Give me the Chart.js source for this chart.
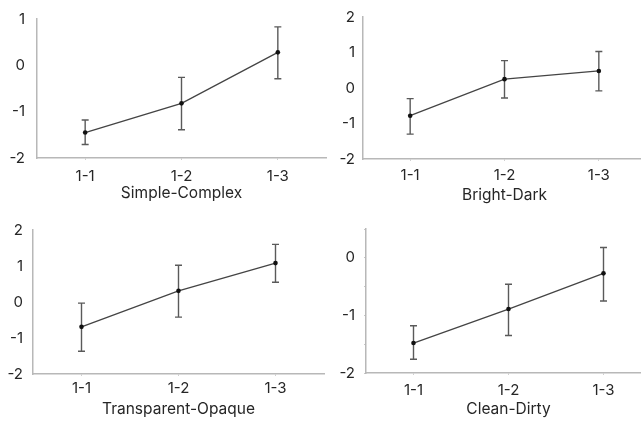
<!DOCTYPE html>
<html>
<head>
<meta charset="utf-8">
<script src="https://cdn.jsdelivr.net/npm/chart.js@4.4.0/dist/chart.umd.min.js"></script>
<style>
  body { margin: 0; background: #fff; overflow: hidden; width: 641px; height: 421px; position: relative; }
  .panel { position: absolute; }
</style>
</head>
<body>
<div class="panel" id="p1"><canvas></canvas></div>
<div class="panel" id="p2"><canvas></canvas></div>
<div class="panel" id="p3"><canvas></canvas></div>
<div class="panel" id="p4"><canvas></canvas></div>
<script>
// данные
const categories = ['1-1', '1-2', '1-3'];

const simpleMean = [-1.45, -0.82, 0.28];
const simpleHigh = [-1.18, -0.26, 0.83];
const simpleLow = [-1.71, -1.39, -0.29];

const brightMean = [-0.78, 0.25, 0.48];
const brightHigh = [-0.30, 0.77, 1.03];
const brightLow = [-1.30, -0.28, -0.08];

const transMean = [-0.69, 0.31, 1.08];
const transHigh = [-0.03, 1.02, 1.60];
const transLow = [-1.37, -0.42, 0.55];

const cleanMean = [-1.48, -0.89, -0.27];
const cleanHigh = [-1.18, -0.46, 0.18];
const cleanLow = [-1.76, -1.35, -0.75];

const axisColor = '#b8b8b8';
const textColor = '#262626';
const fontFamily = 'Inter, "Liberation Sans", sans-serif';

// усы погрешностей
const errorBars = {
  id: 'errorBars',
  beforeDatasetsDraw(chart) {
    const ctx = chart.ctx;
    const x = chart.scales.x;
    const y = chart.scales.y;
    const eb = chart.options.plugins.errorBars;
    ctx.save();
    ctx.strokeStyle = '#5a5a5a';
    ctx.lineWidth = 1.4;
    for (let i = 0; i < eb.high.length; i++) {
      const px = x.getPixelForValue(i);
      const top = y.getPixelForValue(eb.high[i]);
      const bot = y.getPixelForValue(eb.low[i]);
      ctx.beginPath();
      ctx.moveTo(px, top); ctx.lineTo(px, bot);
      ctx.moveTo(px - 3.5, top); ctx.lineTo(px + 3.5, top);
      ctx.moveTo(px - 3.5, bot); ctx.lineTo(px + 3.5, bot);
      ctx.stroke();
    }
    ctx.restore();
  }
};

function makePanel(id, cfg) {
  const box = document.getElementById(id);
  box.style.left = cfg.left + 'px';
  box.style.top = cfg.top + 'px';
  box.style.width = cfg.w + 'px';
  box.style.height = cfg.h + 'px';
  const ctx = box.querySelector('canvas').getContext('2d');
  new Chart(ctx, {
    type: 'line',
    data: {
      labels: categories,
      datasets: [{
        data: cfg.mean,
        borderColor: '#444',
        borderWidth: 1.3,
        pointRadius: 2.3,
        pointBackgroundColor: '#111',
        pointBorderWidth: 0,
        tension: 0,
        fill: false
      }]
    },
    options: {
      responsive: true,
      maintainAspectRatio: false,
      animation: false,
      layout: { padding: { top: cfg.padTop, right: cfg.padRight, left: 0, bottom: 0 } },
      plugins: {
        legend: { display: false },
        tooltip: { enabled: false },
        errorBars: { high: cfg.high, low: cfg.low }
      },
      scales: {
        x: {
          offset: true,
          grid: { display: true, drawOnChartArea: false, color: 'rgba(0,0,0,0)', tickColor: '#d0d0d0', tickLength: 2 },
          border: { display: true, color: axisColor, width: 1.5 },
          ticks: { color: textColor, font: { family: fontFamily, size: 15 }, padding: cfg.xPad, maxRotation: 0 },
          title: { display: true, text: cfg.title, color: textColor, font: { family: fontFamily, size: 15.5 }, padding: { top: 0, bottom: cfg.titlePad } },
          afterFit(scale) { scale.height = cfg.xHeight; }
        },
        y: {
          min: cfg.min,
          max: cfg.max,
          grid: { display: cfg.minorTicks, drawOnChartArea: false, color: 'rgba(0,0,0,0)', tickColor: '#c8c8c8', tickLength: 2 },
          border: { display: true, color: axisColor, width: 1.5 },
          ticks: {
            stepSize: cfg.minorTicks ? 0.5 : 1,
            color: textColor,
            font: { family: fontFamily, size: 15 },
            padding: cfg.yPad,
            callback: v => Number.isInteger(v) ? String(v) : ''
          },
          afterFit(scale) { scale.width = cfg.yWidth; }
        }
      }
    },
    plugins: [errorBars]
  });
}

makePanel('p1', {
  left: 0, top: 0, w: 330, h: 210,
  mean: simpleMean, high: simpleHigh, low: simpleLow,
  title: 'Simple-Complex', min: -2, max: 1, minorTicks: false,
  yWidth: 37, padTop: 15, padRight: 3, xHeight: 52, xPad: 7, titlePad: 7, yPad: 10
});
makePanel('p2', {
  left: 320, top: 0, w: 330, h: 210,
  mean: brightMean, high: brightHigh, low: brightLow,
  title: 'Bright-Dark', min: -2, max: 2, minorTicks: false,
  yWidth: 43, padTop: 17, padRight: 4, xHeight: 51, xPad: 5, titlePad: 5, yPad: 6
});
makePanel('p3', {
  left: 0, top: 210, w: 330, h: 211,
  mean: transMean, high: transHigh, low: transLow,
  title: 'Transparent-Opaque', min: -2, max: 2, minorTicks: false,
  yWidth: 33, padTop: 20, padRight: 6, xHeight: 47, xPad: 3, titlePad: 2, yPad: 8
});
makePanel('p4', {
  left: 320, top: 210, w: 335, h: 211,
  mean: cleanMean, high: cleanHigh, low: cleanLow,
  title: 'Clean-Dirty', min: -2, max: 0.5, minorTicks: true,
  yWidth: 46, padTop: 19, padRight: 4, xHeight: 48, xPad: 6, titlePad: 2, yPad: 9
});
</script>
</body>
</html>
